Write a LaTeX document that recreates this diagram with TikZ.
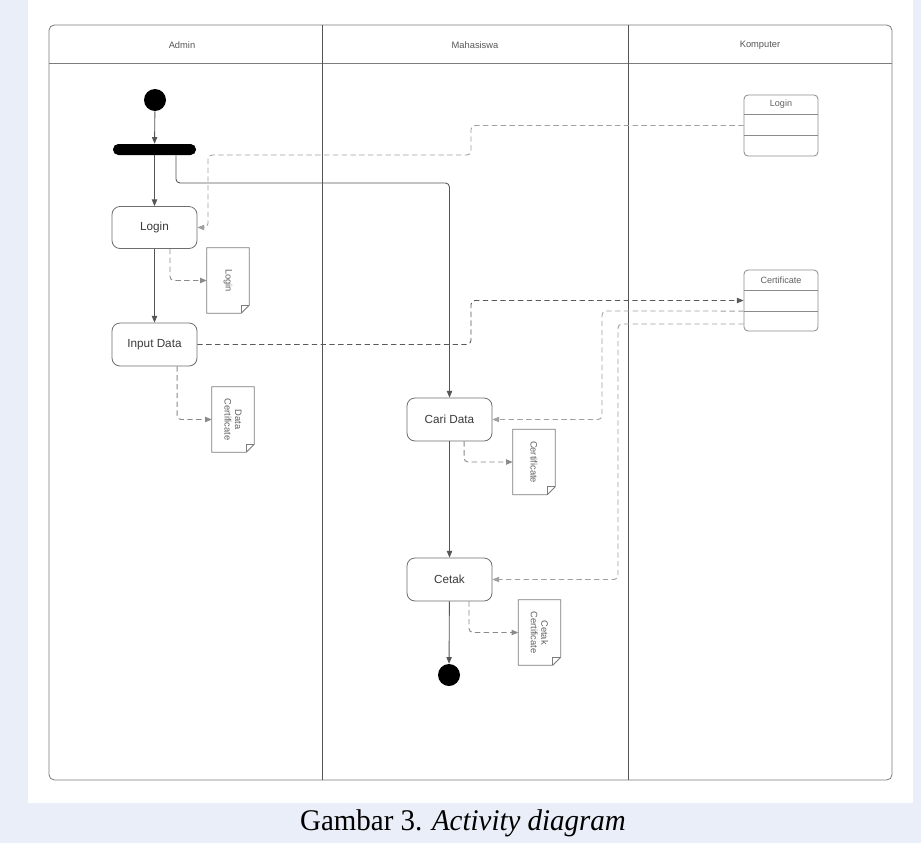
\documentclass[tikz,border=0pt]{standalone}
\usepackage{fontspec}
\setmainfont{Liberation Serif}
\setsansfont{Liberation Sans}
\usetikzlibrary{arrows.meta}
\definecolor{bgblue}{HTML}{EAEEF8}
\definecolor{framec}{HTML}{7C7C7C}
\definecolor{boxc}{HTML}{6E6E6E}
\definecolor{flowc}{HTML}{555555}
\definecolor{textc}{HTML}{3A3A3A}
\definecolor{lightd}{HTML}{A0A0A0}
\definecolor{midd}{HTML}{8A8A8A}
\definecolor{darkd}{HTML}{5A5A5A}
\begin{document}
\begin{tikzpicture}[x=0.75pt,y=-0.75pt,font=\sffamily,
  tipa/.style={-{Triangle[length=5pt,width=4pt]}},
  flow/.style={draw=flowc,line width=0.65pt,tipa},
  objlight/.style={draw=lightd,line width=0.7pt,dash pattern=on 4pt off 2.6pt,rounded corners=3pt,tipa},
  objmid/.style={draw=midd,line width=0.7pt,dash pattern=on 4pt off 2.6pt,rounded corners=3pt,tipa},
  objdark/.style={draw=darkd,line width=0.7pt,dash pattern=on 4pt off 2.6pt,rounded corners=3pt,tipa},
  action/.style={draw=boxc,line width=0.6pt,rounded corners=6pt,minimum width=63.75pt,minimum height=31.5pt,inner sep=0pt,text=textc,font=\sffamily\fontsize{8.8}{10}\selectfont},
  doc/.style={minimum width=31.5pt,minimum height=48.75pt,inner sep=0pt},
  doctext/.style={rotate=-90,align=center,text=textc!80,font=\sffamily\fontsize{7}{7.8}\selectfont},
  classbox/.style={draw=boxc!80,line width=0.6pt,rounded corners=3pt,minimum width=55.5pt,minimum height=45.75pt,inner sep=0pt},
  classtitle/.style={text=textc!80,font=\sffamily\fontsize{6.8}{8}\selectfont},
  lanetitle/.style={text=textc!85,font=\sffamily\fontsize{7}{8}\selectfont},
  dot/.style={circle,fill=black,minimum size=16.5pt,inner sep=0pt}]
\useasboundingbox (0,0) rectangle (921,843);
% background
\fill[bgblue] (0,0) rectangle (921,843);
\fill[white] (28,0) rectangle (913,803);
% swimlane frame
\draw[framec,line width=0.6pt,rounded corners=4pt] (49,25) rectangle (892,780);
\draw[framec,line width=0.6pt] (49,63) -- (892,63);
\draw[flowc,line width=0.6pt] (322,25) -- (322,780);
\draw[flowc,line width=0.6pt] (628,25) -- (628,780);
\node[lanetitle] (tAdmin) at (182,45) {Admin};
\node[lanetitle] (tMhs) at (475,45) {Mahasiswa};
\node[lanetitle] (tKomp) at (760,45) {Komputer};
% nodes
\node[dot] (start) at (155,100) {};
\node[fill=black,rounded corners=4pt,minimum width=62.25pt,minimum height=8.25pt,inner sep=0pt] (fork) at (154.5,149.5) {};
\node[action] (login) at (154.5,227.5) {Login};
\node[action,minimum height=32.25pt] (input) at (154.5,344.5) {Input Data};
\node[action,minimum height=32.25pt] (cari) at (449.5,419.5) {Cari Data};
\node[action,minimum height=32.25pt] (cetak) at (449.5,579.5) {Cetak};
\node[dot] (end) at (449,675) {};
% document notes
\newcommand{\docshape}[1]{%
  \draw[boxc!90,line width=0.6pt,fill=white] (#1.north west) -- (#1.north east) -- ([yshift=6pt]#1.south east) -- ([xshift=-6pt]#1.south east) -- (#1.south west) -- cycle;
  \draw[boxc!90,line width=0.6pt] ([yshift=6pt]#1.south east) -- ([xshift=-6pt,yshift=6pt]#1.south east) -- ([xshift=-6pt]#1.south east);}
\node[doc] (loginDoc) at (228,280.5) {};
\node[doc] (dataDoc) at (233,419.5) {};
\node[doc] (certDoc) at (534,462) {};
\node[doc] (cetakDoc) at (539.5,632.5) {};
\docshape{loginDoc}
\docshape{dataDoc}
\docshape{certDoc}
\docshape{cetakDoc}
\node[doctext] (loginDocT) at (loginDoc.center) {Login};
\node[doctext] (dataDocT) at (dataDoc.center) {Data\\Certificate};
\node[doctext] (certDocT) at (certDoc.center) {Certificate};
\node[doctext] (cetakDocT) at (cetakDoc.center) {Cetak\\Certificate};
% class boxes
\node[classbox] (loginCls) at (781,125.5) {};
\draw[boxc!80,line width=0.6pt] ([yshift=8.6pt]loginCls.west) -- ([yshift=8.6pt]loginCls.east);
\draw[boxc!80,line width=0.6pt] ([yshift=-7.1pt]loginCls.west) -- ([yshift=-7.1pt]loginCls.east);
\node[classtitle] (loginClsT) at (781,104.5) {Login};
\node[classbox] (certCls) at (781,300.5) {};
\draw[boxc!80,line width=0.6pt] ([yshift=7.9pt]certCls.west) -- ([yshift=7.9pt]certCls.east);
\draw[boxc!80,line width=0.6pt] ([yshift=-7.9pt]certCls.west) -- ([yshift=-7.9pt]certCls.east);
\node[classtitle] (certClsT) at (781,280) {Certificate};
% control flows
\draw[flow] (start) -- (fork);
\draw[flow] (fork) -- (login);
\draw[flow,rounded corners=3pt] ([xshift=16.1pt]fork.south) |- (449.5,183) -- (cari.north);
\draw[flow] (login) -- (input);
\draw[flow] (cari) -- (cetak);
\draw[flow] (cetak) -- (end);
% object flows
\draw[objlight] (loginCls.west) -- (471,125.5) -- (471,155) -- (208,155) -- (208,227.5) -- (login.east);
\draw[objmid] ([xshift=11.6pt]login.south) |- (loginDoc.west);
\draw[objdark] (input.east) -- (471,344.5) -- (471,300.5) -- (certCls.west);
\draw[objmid] ([xshift=16.9pt]input.south) |- (dataDoc.west);
\draw[objlight] ([yshift=-7.9pt]certCls.west) -- (602,311) -- (602,419.5) -- (cari.east);
\draw[objlight] ([yshift=-17.6pt]certCls.west) -- (618,324) -- (618,579.5) -- (cetak.east);
\draw[objmid] ([xshift=10.9pt]cari.south) |- (certDoc.west);
\draw[objmid] ([xshift=14.6pt]cetak.south) |- (cetakDoc.west);
% caption
\node[font=\rmfamily\fontsize{22.5}{25}\selectfont,text=black,xscale=0.965] (caption) at (463,823) {Gambar 3. \textit{Activity diagram}};
\end{tikzpicture}
\end{document}
